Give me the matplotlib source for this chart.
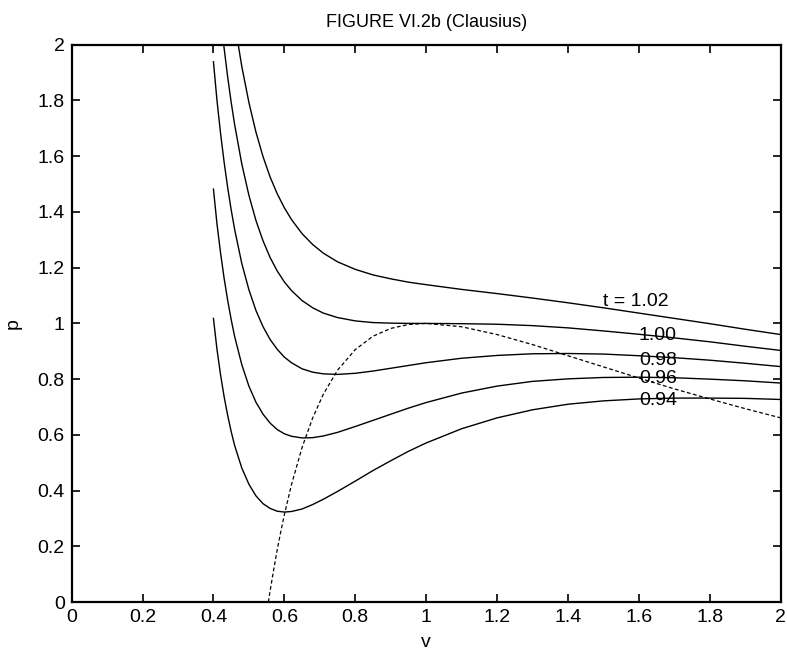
import matplotlib
matplotlib.use("Agg")
import matplotlib.pyplot as plt

plt.rcParams['font.family'] = ['Liberation Sans', 'DejaVu Sans']

# isotherms (v, p)
v_094 = [0.40, 0.41, 0.42, 0.43, 0.44, 0.45, 0.46, 0.48, 0.50, 0.52, 0.54, 0.56, 0.58,
         0.60, 0.62, 0.65, 0.68, 0.71, 0.75, 0.80, 0.85, 0.90, 0.95, 1.0, 1.1, 1.2, 1.3,
         1.4, 1.5, 1.6, 1.7, 1.8, 1.9, 2.0]
p_094 = [1.018, 0.907, 0.816, 0.738, 0.671, 0.612, 0.561, 0.481, 0.423, 0.381, 0.353,
         0.336, 0.326, 0.323, 0.325, 0.334, 0.350, 0.369, 0.397, 0.434, 0.472, 0.507,
         0.541, 0.571, 0.622, 0.661, 0.690, 0.710, 0.722, 0.729, 0.732, 0.732, 0.731, 0.727]

v_096 = [0.40, 0.41, 0.42, 0.43, 0.44, 0.45, 0.46, 0.48, 0.50, 0.52, 0.54, 0.56, 0.58,
         0.60, 0.62, 0.65, 0.68, 0.71, 0.75, 0.80, 0.85, 0.90, 0.95, 1.0, 1.1, 1.2, 1.3,
         1.4, 1.5, 1.6, 1.7, 1.8, 1.9, 2.0]
p_096 = [1.482, 1.357, 1.254, 1.163, 1.084, 1.014, 0.952, 0.852, 0.775, 0.717, 0.674,
         0.642, 0.619, 0.604, 0.595, 0.589, 0.590, 0.596, 0.609, 0.630, 0.652, 0.674,
         0.696, 0.716, 0.750, 0.775, 0.792, 0.801, 0.806, 0.807, 0.805, 0.800, 0.794, 0.786]

v_098 = [0.40, 0.41, 0.42, 0.43, 0.44, 0.45, 0.46, 0.48, 0.50, 0.52, 0.54, 0.56, 0.58,
         0.60, 0.62, 0.65, 0.68, 0.71, 0.75, 0.80, 0.85, 0.90, 0.95, 1.0, 1.1, 1.2, 1.3,
         1.4, 1.5, 1.6, 1.7, 1.8, 1.9, 2.0]
p_098 = [1.939, 1.800, 1.683, 1.580, 1.489, 1.408, 1.336, 1.215, 1.121, 1.046, 0.988,
         0.942, 0.907, 0.879, 0.859, 0.837, 0.825, 0.819, 0.817, 0.821, 0.829, 0.839,
         0.849, 0.859, 0.875, 0.885, 0.891, 0.892, 0.890, 0.884, 0.877, 0.868, 0.857, 0.845]

v_100 = [0.429, 0.43, 0.44, 0.45, 0.46, 0.48, 0.50, 0.52, 0.54, 0.56, 0.58, 0.60, 0.62,
         0.65, 0.68, 0.71, 0.75, 0.80, 0.85, 0.90, 0.95, 1.0, 1.1, 1.2, 1.3, 1.4, 1.5,
         1.6, 1.7, 1.8, 1.9, 2.0]
p_100 = [2.0, 1.989, 1.886, 1.794, 1.712, 1.572, 1.460, 1.369, 1.296, 1.236, 1.188,
         1.149, 1.118, 1.082, 1.056, 1.037, 1.021, 1.009, 1.003, 1.001, 1.000, 1.000,
         0.999, 0.997, 0.992, 0.984, 0.973, 0.961, 0.948, 0.934, 0.918, 0.903]

v_102 = [0.47, 0.48, 0.50, 0.52, 0.54, 0.56, 0.58, 0.60, 0.62, 0.65, 0.68, 0.71, 0.75,
         0.80, 0.85, 0.90, 0.95, 1.0, 1.1, 1.2, 1.3, 1.4, 1.5, 1.6, 1.7, 1.8, 1.9, 2.0]
p_102 = [2.0, 1.922, 1.793, 1.686, 1.598, 1.525, 1.465, 1.415, 1.373, 1.322, 1.283,
         1.252, 1.221, 1.194, 1.174, 1.160, 1.148, 1.139, 1.122, 1.107, 1.091, 1.074,
         1.056, 1.037, 1.018, 0.999, 0.979, 0.960]

# dashed locus of the extrema
v_dash = [0.555, 0.56, 0.565, 0.57, 0.58, 0.59, 0.60, 0.62, 0.65, 0.68, 0.71, 0.75, 0.80,
          0.85, 0.90, 0.95, 1.0, 1.1, 1.2, 1.3, 1.4, 1.5, 1.6, 1.7, 1.8, 1.9, 2.0]
p_dash = [0.0, 0.041, 0.079, 0.117, 0.188, 0.253, 0.313, 0.421, 0.555, 0.661, 0.746,
          0.832, 0.906, 0.954, 0.982, 0.996, 1.000, 0.988, 0.960, 0.924, 0.884, 0.844,
          0.804, 0.765, 0.729, 0.694, 0.661]

labels = ['t = 1.02', '1.00', '0.98', '0.96', '0.94']
label_v = [1.5, 1.6, 1.6, 1.6, 1.6]
label_p = [1.078, 0.958, 0.868, 0.803, 0.725]

fig = plt.figure(figsize=(7.87, 6.58), dpi=100)
ax = fig.add_axes([0.091, 0.085, 0.901, 0.847])

for v, p in [(v_094, p_094), (v_096, p_096), (v_098, p_098), (v_100, p_100), (v_102, p_102)]:
    ax.plot(v, p, color='k', lw=1.0)
ax.plot(v_dash, p_dash, color='k', lw=0.9, dashes=(3, 2))

for s, x, y in zip(labels, label_v, label_p):
    ax.text(x, y, s, fontsize=14, ha='left', va='center')

ax.set_xlim(0, 2)
ax.set_ylim(0, 2)
ticks = [0, 0.2, 0.4, 0.6, 0.8, 1, 1.2, 1.4, 1.6, 1.8, 2]
tick_text = ['0', '0.2', '0.4', '0.6', '0.8', '1', '1.2', '1.4', '1.6', '1.8', '2']
ax.set_xticks(ticks)
ax.set_yticks(ticks)
ax.set_xticklabels(tick_text)
ax.set_yticklabels(tick_text)
ax.tick_params(direction='in', top=True, right=True, length=6, width=1.2,
               labelsize=14, pad=5)
for sp in ax.spines.values():
    sp.set_linewidth(1.6)

ax.set_xlabel('v', fontsize=14, labelpad=6)
ax.set_ylabel('p', fontsize=14, labelpad=11)
ax.set_title('FIGURE VI.2b (Clausius)', fontsize=13, pad=13)

fig.savefig('out.png', dpi=100)
